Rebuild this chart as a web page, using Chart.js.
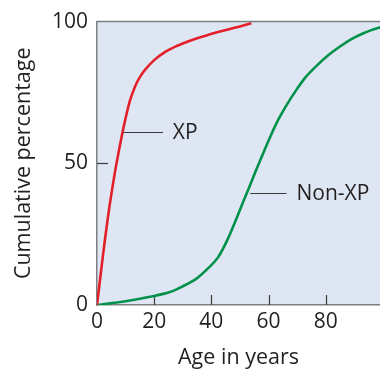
<!DOCTYPE html>
<html>
<head>
<meta charset="utf-8">
<script src="https://cdn.jsdelivr.net/npm/chart.js@4.4.1/dist/chart.umd.min.js"></script>
<style>
  html, body { margin: 0; padding: 0; background: #ffffff; }
  #wrap { width: 380px; height: 371px; position: relative; }
</style>
</head>
<body>
<div id="wrap"><canvas id="c" width="380" height="371"></canvas></div>
<script>
// ---- data ----
const xpAge = [0, 2, 4, 6, 7, 8, 9, 10, 11.5, 13, 14, 15.5, 17, 20, 24, 27, 30, 34, 38.5, 42, 46.5, 50, 54];
const xpPct = [0, 16.8, 32.2, 45.2, 50.9, 56.3, 61.3, 65.9, 72.0, 76.3, 78.6, 81.2, 83.2, 86.4, 89.4, 91.0, 92.3, 93.8, 95.2, 96.2, 97.4, 98.3, 99.4];
const nonXpAge = [0, 10, 18.5, 25.5, 30, 34.8, 38.9, 42.4, 45.9, 48.8, 51.1, 53.5, 56, 58.1, 60.5, 62.8, 66, 69.8, 73, 76.8, 81, 85, 89, 93, 96, 99];
const nonXpPct = [0, 1.3, 2.9, 4.6, 6.6, 9.3, 13.0, 16.9, 23.6, 30.5, 36.3, 42.2, 48.4, 53.5, 59.1, 64.2, 70.0, 76.0, 80.4, 84.4, 88.2, 91.2, 93.8, 95.8, 97, 98];
const xTicks = [0, 20, 40, 60, 80];
const yTicks = [0, 50, 100];
const seriesNames = ['XP', 'Non-XP'];
const xTitle = 'Age in years';
const yTitle = 'Cumulative percentage';

// label leader lines (data coordinates)
const leaders = [
  { text: 'XP', from: [9.2, 61], to: [23.1, 61], textX: 26.5 },
  { text: 'Non-XP', from: [53.6, 39.5], to: [66.3, 39.5], textX: 69.8 }
];

const FONT = "'Open Sans', 'Noto Sans', sans-serif";
const TEXT = '#231f20';
const AXIS = '#7d7f82';

function pts(xs, ys) { return xs.map((x, i) => ({ x: x, y: ys[i] })); }

const decor = {
  id: 'decor',
  beforeDraw(chart) {
    const { ctx, chartArea: a } = chart;
    ctx.save();
    ctx.fillStyle = '#dfe6f3';
    ctx.fillRect(a.left, a.top, a.right - a.left, a.bottom - a.top);
    ctx.restore();
  },
  beforeDatasetsDraw(chart) {
    const { ctx, chartArea: a, scales } = chart;
    ctx.save();
    ctx.strokeStyle = '#3a3a3a';
    ctx.lineWidth = 1.2;
    xTicks.forEach(v => {
      if (v === 0) return;
      const px = Math.round(scales.x.getPixelForValue(v)) + 0.5;
      ctx.beginPath(); ctx.moveTo(px, a.bottom); ctx.lineTo(px, a.bottom - 10); ctx.stroke();
    });
    yTicks.forEach(v => {
      if (v === 0 || v === 100) return;
      const py = Math.round(scales.y.getPixelForValue(v)) + 0.5;
      ctx.beginPath(); ctx.moveTo(a.left, py); ctx.lineTo(a.left + 11, py); ctx.stroke();
    });
    ctx.restore();
  },
  afterDraw(chart) {
    const { ctx, chartArea: a, scales } = chart;
    ctx.save();
    ctx.strokeStyle = AXIS;
    ctx.lineWidth = 1.5;
    ctx.beginPath(); ctx.moveTo(a.left, a.top); ctx.lineTo(a.right, a.top); ctx.stroke();
    ctx.strokeStyle = '#3a3a3a';
    ctx.lineWidth = 1.2;
    ctx.fillStyle = TEXT;
    ctx.font = "21px " + FONT;
    ctx.textBaseline = 'middle';
    ctx.textAlign = 'left';
    leaders.forEach(l => {
      const x1 = scales.x.getPixelForValue(l.from[0]);
      const y1 = Math.round(scales.y.getPixelForValue(l.from[1])) + 0.5;
      const x2 = scales.x.getPixelForValue(l.to[0]);
      ctx.beginPath(); ctx.moveTo(x1, y1); ctx.lineTo(x2, y1); ctx.stroke();
      ctx.fillText(l.text, scales.x.getPixelForValue(l.textX), y1 + 1);
    });
    ctx.restore();
  }
};

new Chart(document.getElementById('c'), {
  type: 'line',
  data: {
    datasets: [
      { label: seriesNames[0], data: pts(xpAge, xpPct), borderColor: '#e3202a', borderWidth: 2.6, pointRadius: 0, cubicInterpolationMode: 'monotone', fill: false },
      { label: seriesNames[1], data: pts(nonXpAge, nonXpPct), borderColor: '#00924a', borderWidth: 2.6, pointRadius: 0, cubicInterpolationMode: 'monotone', fill: false }
    ]
  },
  options: {
    responsive: false,
    animation: false,
    layout: { padding: { top: 18, right: 0, left: 0, bottom: 0 } },
    plugins: { legend: { display: false }, tooltip: { enabled: false } },
    scales: {
      x: {
        type: 'linear', min: 0, max: 99,
        afterBuildTicks(s) { s.ticks = xTicks.map(v => ({ value: v })); },
        afterFit(s) { s.height = 66; },
        grid: { display: true, drawOnChartArea: false, drawTicks: false },
        border: { display: true, color: AXIS, width: 1.5 },
        ticks: { color: TEXT, font: { family: FONT, size: 21 }, padding: 4, maxRotation: 0, autoSkip: false },
        title: { display: true, text: xTitle, color: TEXT, font: { family: FONT, size: 21.5 }, padding: { top: 1, bottom: 0 } }
      },
      y: {
        type: 'linear', min: 0, max: 100,
        afterBuildTicks(s) { s.ticks = yTicks.map(v => ({ value: v })); },
        afterFit(s) { s.width = 97; },
        grid: { display: true, drawOnChartArea: false, drawTicks: false },
        border: { display: true, color: AXIS, width: 1.5 },
        ticks: { color: TEXT, font: { family: FONT, size: 21 }, padding: 9 },
        title: { display: true, text: yTitle, color: TEXT, font: { family: FONT, size: 21.5 }, padding: { top: 11, bottom: 0 } }
      }
    }
  },
  plugins: [decor]
});
</script>
</body>
</html>
